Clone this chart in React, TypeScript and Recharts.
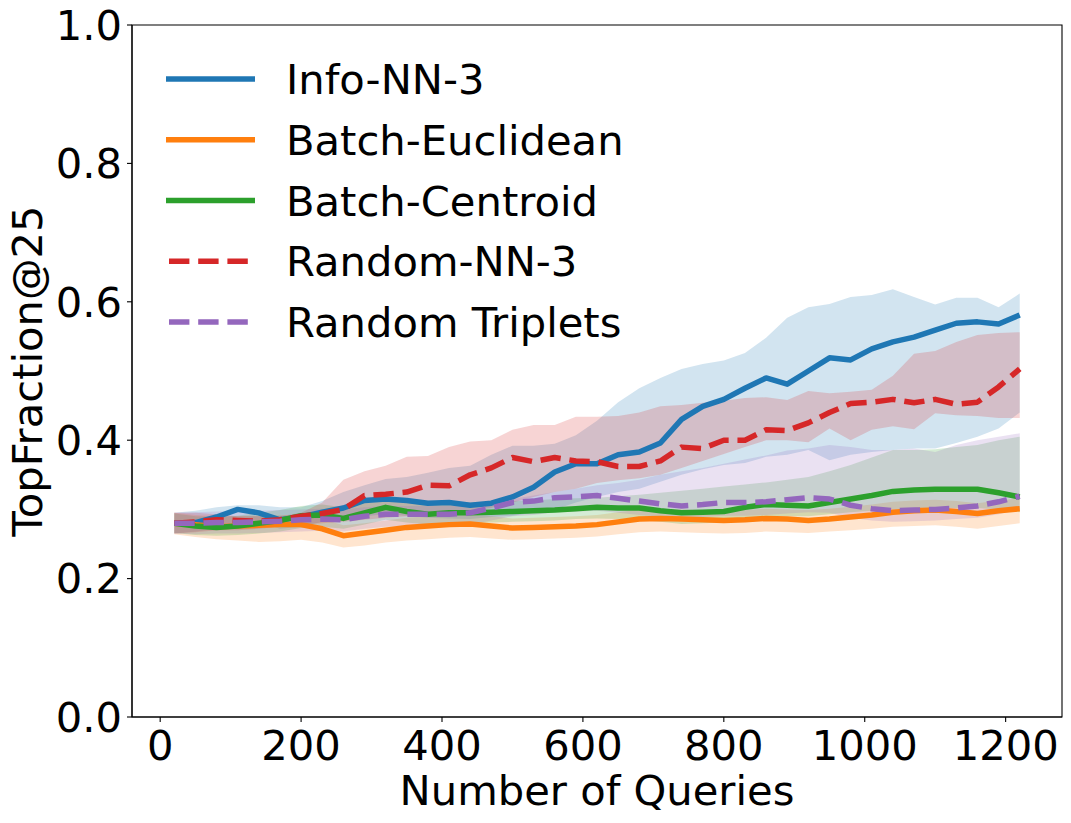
import React from 'react';
import { ComposedChart, Area, Line, XAxis, YAxis, ReferenceArea, Legend } from 'recharts';

const queries = [20, 50, 80, 110, 140, 170, 200, 230, 260, 290, 320, 350, 380, 410, 440, 470, 500, 530, 560, 590, 620, 650, 680, 710, 740, 770, 800, 830, 860, 890, 920, 950, 980, 1010, 1040, 1070, 1100, 1130, 1160, 1190, 1220];

const xTicks = [0, 200, 400, 600, 800, 1000, 1200];
const yTicks = [0, 0.2, 0.4, 0.6, 0.8, 1.0];

const infoMean = [0.280, 0.281, 0.289, 0.300, 0.295, 0.285, 0.289, 0.296, 0.302, 0.313, 0.315, 0.313, 0.309, 0.310, 0.306, 0.309, 0.318, 0.332, 0.354, 0.366, 0.366, 0.379, 0.383, 0.396, 0.430, 0.449, 0.459, 0.475, 0.490, 0.481, 0.500, 0.519, 0.516, 0.532, 0.542, 0.549, 0.559, 0.569, 0.571, 0.568, 0.581];
const infoLo = [0.265, 0.268, 0.272, 0.283, 0.282, 0.272, 0.275, 0.282, 0.285, 0.290, 0.293, 0.291, 0.288, 0.287, 0.286, 0.289, 0.291, 0.295, 0.300, 0.310, 0.318, 0.325, 0.330, 0.340, 0.350, 0.358, 0.364, 0.367, 0.376, 0.379, 0.386, 0.371, 0.379, 0.383, 0.386, 0.388, 0.388, 0.396, 0.405, 0.417, 0.440];
const infoHi = [0.295, 0.298, 0.303, 0.306, 0.306, 0.303, 0.303, 0.312, 0.325, 0.335, 0.344, 0.347, 0.353, 0.360, 0.363, 0.379, 0.392, 0.392, 0.395, 0.407, 0.428, 0.455, 0.475, 0.490, 0.503, 0.510, 0.515, 0.526, 0.548, 0.577, 0.592, 0.597, 0.607, 0.610, 0.618, 0.607, 0.596, 0.606, 0.606, 0.592, 0.612];

const euclidMean = [0.280, 0.278, 0.275, 0.276, 0.277, 0.278, 0.278, 0.272, 0.262, 0.266, 0.270, 0.274, 0.276, 0.278, 0.279, 0.276, 0.273, 0.274, 0.275, 0.276, 0.278, 0.282, 0.286, 0.287, 0.286, 0.285, 0.284, 0.285, 0.287, 0.286, 0.284, 0.286, 0.289, 0.292, 0.296, 0.298, 0.299, 0.297, 0.294, 0.298, 0.301];
const euclidLo = [0.264, 0.260, 0.257, 0.255, 0.253, 0.254, 0.256, 0.252, 0.245, 0.248, 0.252, 0.255, 0.257, 0.259, 0.260, 0.258, 0.256, 0.257, 0.258, 0.259, 0.261, 0.264, 0.267, 0.268, 0.267, 0.266, 0.265, 0.266, 0.268, 0.267, 0.266, 0.268, 0.270, 0.272, 0.275, 0.276, 0.277, 0.275, 0.272, 0.276, 0.280];
const euclidHi = [0.295, 0.292, 0.290, 0.290, 0.291, 0.292, 0.292, 0.286, 0.277, 0.280, 0.284, 0.288, 0.290, 0.292, 0.293, 0.290, 0.287, 0.288, 0.289, 0.290, 0.292, 0.296, 0.300, 0.301, 0.300, 0.299, 0.298, 0.299, 0.301, 0.300, 0.299, 0.301, 0.304, 0.307, 0.311, 0.313, 0.314, 0.312, 0.309, 0.313, 0.316];

const centroidMean = [0.280, 0.276, 0.274, 0.276, 0.280, 0.284, 0.291, 0.292, 0.287, 0.295, 0.303, 0.297, 0.293, 0.295, 0.295, 0.296, 0.297, 0.298, 0.299, 0.301, 0.303, 0.302, 0.302, 0.298, 0.295, 0.296, 0.297, 0.303, 0.307, 0.306, 0.305, 0.310, 0.315, 0.320, 0.326, 0.328, 0.329, 0.329, 0.329, 0.324, 0.318];
const centroidLo = [0.266, 0.263, 0.262, 0.263, 0.265, 0.268, 0.273, 0.275, 0.272, 0.278, 0.285, 0.281, 0.278, 0.280, 0.280, 0.281, 0.282, 0.283, 0.284, 0.286, 0.287, 0.286, 0.285, 0.282, 0.279, 0.280, 0.281, 0.286, 0.290, 0.290, 0.290, 0.293, 0.296, 0.298, 0.300, 0.301, 0.302, 0.302, 0.302, 0.300, 0.296];
const centroidHi = [0.294, 0.290, 0.289, 0.291, 0.295, 0.299, 0.305, 0.307, 0.303, 0.310, 0.318, 0.312, 0.308, 0.310, 0.310, 0.311, 0.312, 0.313, 0.315, 0.316, 0.317, 0.319, 0.321, 0.324, 0.327, 0.330, 0.333, 0.336, 0.339, 0.343, 0.347, 0.355, 0.364, 0.375, 0.386, 0.386, 0.387, 0.390, 0.393, 0.400, 0.405];

const randNNMean = [0.280, 0.282, 0.285, 0.284, 0.283, 0.285, 0.290, 0.294, 0.300, 0.320, 0.322, 0.325, 0.335, 0.334, 0.350, 0.360, 0.375, 0.369, 0.375, 0.370, 0.369, 0.362, 0.362, 0.370, 0.390, 0.388, 0.400, 0.400, 0.415, 0.414, 0.425, 0.440, 0.453, 0.455, 0.459, 0.454, 0.459, 0.452, 0.455, 0.477, 0.503];
const randNNLo = [0.265, 0.267, 0.270, 0.270, 0.272, 0.275, 0.278, 0.280, 0.282, 0.285, 0.288, 0.290, 0.292, 0.295, 0.298, 0.302, 0.310, 0.318, 0.325, 0.330, 0.338, 0.342, 0.345, 0.350, 0.360, 0.370, 0.380, 0.390, 0.400, 0.400, 0.397, 0.417, 0.400, 0.415, 0.420, 0.416, 0.439, 0.436, 0.435, 0.432, 0.432];
const randNNHi = [0.295, 0.295, 0.293, 0.290, 0.290, 0.290, 0.295, 0.310, 0.343, 0.355, 0.363, 0.376, 0.377, 0.390, 0.398, 0.400, 0.415, 0.422, 0.422, 0.434, 0.434, 0.435, 0.440, 0.449, 0.451, 0.454, 0.457, 0.461, 0.462, 0.458, 0.471, 0.468, 0.470, 0.473, 0.493, 0.525, 0.529, 0.542, 0.552, 0.555, 0.556];

const tripletMean = [0.280, 0.280, 0.281, 0.281, 0.282, 0.283, 0.285, 0.286, 0.285, 0.290, 0.293, 0.293, 0.293, 0.293, 0.295, 0.302, 0.310, 0.312, 0.317, 0.318, 0.320, 0.316, 0.312, 0.308, 0.305, 0.307, 0.310, 0.310, 0.311, 0.314, 0.317, 0.315, 0.306, 0.301, 0.298, 0.299, 0.300, 0.302, 0.305, 0.311, 0.319];
const tripletLo = [0.265, 0.264, 0.265, 0.265, 0.266, 0.267, 0.268, 0.269, 0.268, 0.272, 0.275, 0.275, 0.275, 0.276, 0.278, 0.284, 0.290, 0.292, 0.296, 0.297, 0.298, 0.295, 0.292, 0.289, 0.287, 0.289, 0.291, 0.291, 0.292, 0.294, 0.296, 0.295, 0.288, 0.284, 0.282, 0.283, 0.284, 0.286, 0.288, 0.293, 0.300];
const tripletHi = [0.295, 0.296, 0.297, 0.297, 0.298, 0.299, 0.300, 0.301, 0.300, 0.303, 0.305, 0.305, 0.305, 0.305, 0.307, 0.310, 0.315, 0.320, 0.325, 0.330, 0.335, 0.338, 0.343, 0.350, 0.355, 0.360, 0.366, 0.372, 0.378, 0.385, 0.388, 0.393, 0.390, 0.386, 0.386, 0.388, 0.383, 0.393, 0.400, 0.405, 0.410];

const seriesNames = ['Info-NN-3', 'Batch-Euclidean', 'Batch-Centroid', 'Random-NN-3', 'Random Triplets'];

const series = [
  { key: 'info', name: seriesNames[0], color: '#1f77b4', dashed: false, mean: infoMean, lo: infoLo, hi: infoHi },
  { key: 'euclid', name: seriesNames[1], color: '#ff7f0e', dashed: false, mean: euclidMean, lo: euclidLo, hi: euclidHi },
  { key: 'centroid', name: seriesNames[2], color: '#2ca02c', dashed: false, mean: centroidMean, lo: centroidLo, hi: centroidHi },
  { key: 'randNN', name: seriesNames[3], color: '#d62728', dashed: true, mean: randNNMean, lo: randNNLo, hi: randNNHi },
  { key: 'triplet', name: seriesNames[4], color: '#9467bd', dashed: true, mean: tripletMean, lo: tripletLo, hi: tripletHi },
];

const data = queries.map((q, i) => {
  const row: any = { q };
  series.forEach((s) => {
    row[s.key] = s.mean[i];
    row[s.key + 'Band'] = [s.lo[i], s.hi[i]];
  });
  return row;
});

const FONT = '"DejaVu Sans", sans-serif';
const FS = 41.67;
const LW = 5.5;
const DASH = '20.4 8.8';

const XTitle = (props: any) => {
  const vb = props.viewBox || { x: 132, y: 717, width: 930, height: 106 };
  return (
    <text x={vb.x + vb.width / 2} y={vb.y + 88} textAnchor="middle" fontFamily={FONT} fontSize={FS} fill="#000">
      Number of Queries
    </text>
  );
};

const YTitle = (props: any) => {
  const vb = props.viewBox || { x: 0, y: 25, width: 132, height: 692 };
  const cx = 42;
  const cy = vb.y + vb.height / 2;
  return (
    <text x={cx} y={cy} transform={`rotate(-90 ${cx} ${cy})`} textAnchor="middle" fontFamily={FONT} fontSize={FS} fill="#000">
      TopFraction@25
    </text>
  );
};

const renderLegend = () => (
  <svg width={480} height={310} style={{ display: 'block', overflow: 'visible' }}>
    {series.map((s, i) => {
      const cy = 39 + i * 60.75;
      return (
        <g key={s.key}>
          <line
            x1={s.dashed ? 19 : 16}
            x2={s.dashed ? 98 : 105}
            y1={cy}
            y2={cy}
            stroke={s.color}
            strokeWidth={LW}
            strokeDasharray={s.dashed ? DASH : undefined}
          />
          <text x={136} y={cy + 15.2} fontFamily={FONT} fontSize={FS} fill="#000">
            {s.name}
          </text>
        </g>
      );
    })}
  </svg>
);

export default function App() {
  return (
    <div style={{ position: 'absolute', left: 0, top: 0, width: 1071, height: 823, background: '#fff' }}>
      <ComposedChart width={1071} height={823} data={data} margin={{ top: 25, right: 9, left: 0, bottom: 0 }}>
        {series.map((s) => (
          <Area
            key={s.key + 'Band'}
            type="linear"
            dataKey={s.key + 'Band'}
            stroke="none"
            fill={s.color}
            fillOpacity={0.2}
            isAnimationActive={false}
            legendType="none"
            activeDot={false}
          />
        ))}
        {series.map((s) => (
          <Line
            key={s.key}
            type="linear"
            dataKey={s.key}
            name={s.name}
            stroke={s.color}
            strokeWidth={LW}
            strokeDasharray={s.dashed ? DASH : undefined}
            strokeLinejoin="round"
            dot={false}
            activeDot={false}
            isAnimationActive={false}
          />
        ))}
        <XAxis
          type="number"
          dataKey="q"
          domain={[-40, 1280]}
          allowDataOverflow
          ticks={xTicks}
          interval={0}
          height={106}
          tickSize={5}
          tickMargin={8}
          stroke="#000"
          axisLine={{ stroke: '#000', strokeWidth: 1.1 }}
          tickLine={{ stroke: '#000', strokeWidth: 1.1 }}
          tick={{ fill: '#000', fontSize: FS, fontFamily: FONT }}
          label={<XTitle />}
        />
        <YAxis
          type="number"
          domain={[0, 1]}
          allowDataOverflow
          ticks={yTicks}
          interval={0}
          width={132}
          tickSize={5}
          tickMargin={5}
          tickFormatter={(v: number) => v.toFixed(1)}
          stroke="#000"
          axisLine={{ stroke: '#000', strokeWidth: 1.1 }}
          tickLine={{ stroke: '#000', strokeWidth: 1.1 }}
          tick={{ fill: '#000', fontSize: FS, fontFamily: FONT }}
          label={<YTitle />}
        />
        <ReferenceArea x1={-40} x2={1280} y1={0} y2={1} fill="none" stroke="#000" strokeWidth={1.1} ifOverflow="visible" />
        <Legend
          layout="vertical"
          align="center"
          verticalAlign="middle"
          content={renderLegend}
          wrapperStyle={{ left: 150, top: 40, width: 480, height: 310 }}
        />
      </ComposedChart>
    </div>
  );
}
